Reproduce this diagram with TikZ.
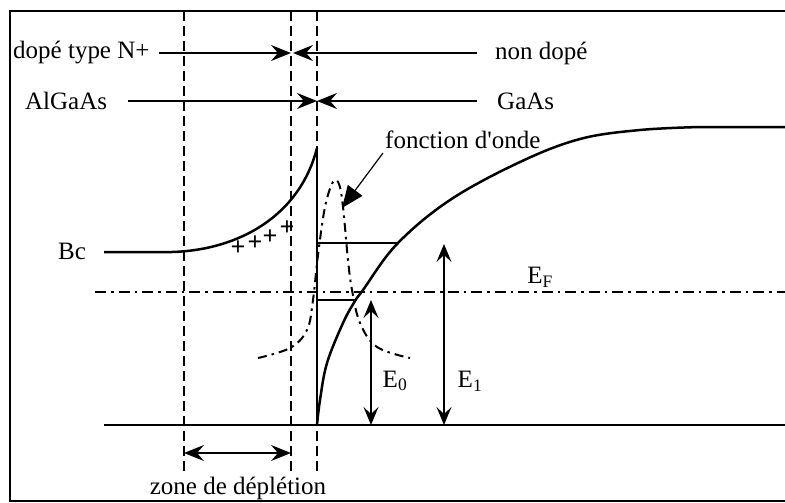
\documentclass[tikz,border=0pt]{standalone}
\usepackage{fontspec}
\setmainfont{Liberation Serif}
\usetikzlibrary{arrows.meta}
\tikzset{
  lbl/.style={inner sep=0pt, font=\fontsize{25}{30}\selectfont},
  thick2/.style={line width=2.5pt},
  vdash/.style={line width=2.3pt, dash pattern=on 10pt off 5pt},
  dashdot/.style={line width=2.3pt, dash pattern=on 11pt off 5pt on 2.5pt off 5pt},
  harr/.style={line width=2.3pt, -{Stealth[length=20pt,width=16pt,inset=7pt]}},
  earr/.style={line width=1.4pt, {Stealth[length=18pt,width=15pt,inset=7pt]}-{Stealth[length=18pt,width=15pt,inset=7pt]}},
  thin1/.style={line width=1.2pt}
}
\begin{document}
\begin{tikzpicture}[x=1pt,y=-1pt]
\useasboundingbox (0,0) rectangle (785,503);
% frame
\draw[line width=2.3pt] (785,11) -- (10,11) -- (10,501) -- (785,501);
% dashed verticals
\draw[vdash] (184,11) -- (184,473);
\draw[vdash] (291,11) -- (291,473);
\draw[vdash] (317,11) -- (317,473);
% row 1
\node[lbl,anchor=west] (dope) at (13,53) {dopé type N+};
\node[lbl,anchor=west] (nondope) at (495,53) {non dopé};
\coordinate (r1a) at (159,53);
\coordinate (r1m) at (291,53);
\coordinate (r1n) at (293,53);
\coordinate (r1b) at (477,53);
\draw[harr] (r1a) -- (r1m);
\draw[harr] (r1b) -- (r1n);
% row 2
\node[lbl,anchor=west] (algaas) at (25,101) {AlGaAs};
\node[lbl,anchor=west] (gaas) at (497,101) {GaAs};
\coordinate (r2a) at (128,101);
\coordinate (r2m) at (317,101);
\coordinate (r2b) at (477,101);
\draw[harr] (r2a) -- (r2m);
\draw[harr] (r2b) -- (r2m);
% Bc band AlGaAs
\node[lbl] (bc) at (72,251) {Bc};
\draw[thick2] (104,252) -- (172,252) .. controls (240,250) and (300,215) .. (317,148);
% vertical heterointerface
\draw[thick2] (317,148) -- (317,425);
% plus signs
\foreach \px/\py in {238/248,255/243,270/237,287/228}
  \node[inner sep=0pt, font=\fontsize{26}{26}\selectfont\bfseries] at (\px,\py) {+};
% bottom line
\draw[thick2] (104,425) -- (785,425);
% GaAs band
\draw[thick2] plot[smooth,tension=0.6] coordinates {(317,425) (320,400) (327,363) (343,323) (355,301) (363,290) (397,244) (450,200) (520,162) (580,139) (640,130) (700,127)} -- (785,127);
% Fermi level
\draw[dashdot] (95,292) -- (785,292);
\node[lbl] (ef) at (540,277) {E\textsubscript{F}};
% sub-band levels
\draw[thin1] (317,243) -- (398,243);
\draw[thin1] (317,300) -- (356,300);
% wave function
\draw[dashdot, line width=2pt, dash pattern=on 9pt off 5pt on 2.5pt off 5pt] plot[smooth,tension=0.6] coordinates {(258,358) (290,348) (307,330) (313,300) (318,255) (325,207) (333,182) (339,184) (343,207) (348,260) (352,290) (360,323) (377,347) (410,358)};
% fonction d'onde label + arrow
\node[lbl,anchor=west] (fonc) at (385,140) {fonction d\textquotesingle onde};
\coordinate (ftip) at (342,208);
\draw[thin1, -{Triangle[length=22pt,width=18pt]}] (383,153) -- (ftip);
% E0 and E1
\draw[earr] (371,300) -- (371,425);
\node[lbl] (e0) at (395,381) {E\textsubscript{0}};
\draw[earr] (444,244) -- (444,425);
\node[lbl] (e1) at (470,381) {E\textsubscript{1}};
% depletion zone
\draw[line width=1.4pt, {Stealth[length=20pt,width=16pt,inset=7pt]}-{Stealth[length=20pt,width=16pt,inset=7pt]}] (184,453) -- (291,453);
\node[lbl] (zone) at (238,488) {zone de déplétion};
\end{tikzpicture}
\end{document}
